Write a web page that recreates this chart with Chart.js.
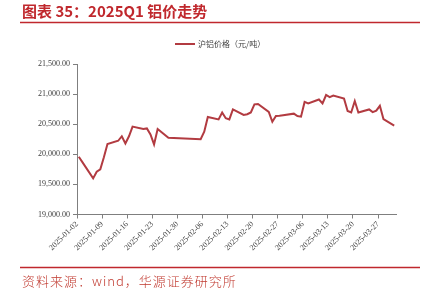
<!DOCTYPE html>
<html>
<head>
<meta charset="utf-8">
<script src="https://cdn.jsdelivr.net/npm/chart.js@4.4.1/dist/chart.umd.min.js"></script>
<style>
  html, body { margin: 0; padding: 0; background: #fff; }
  #wrap { width: 430px; height: 295px; }
</style>
</head>
<body>
<div id="wrap"><canvas id="line-chart" width="430" height="295"></canvas></div>
<script>
// trading days of 2025Q1 and SHFE aluminium price (yuan/ton)
var dates = ["2025-01-02", "2025-01-03", "2025-01-06", "2025-01-07", "2025-01-08", "2025-01-09", "2025-01-10",
  "2025-01-13", "2025-01-14", "2025-01-15", "2025-01-16", "2025-01-17", "2025-01-20", "2025-01-21",
  "2025-01-22", "2025-01-23", "2025-01-24", "2025-01-27", "2025-02-05", "2025-02-06", "2025-02-07",
  "2025-02-10", "2025-02-11", "2025-02-12", "2025-02-13", "2025-02-14", "2025-02-17", "2025-02-18",
  "2025-02-19", "2025-02-20", "2025-02-21", "2025-02-24", "2025-02-25", "2025-02-26", "2025-02-27",
  "2025-02-28", "2025-03-03", "2025-03-04", "2025-03-05", "2025-03-06", "2025-03-07", "2025-03-10",
  "2025-03-11", "2025-03-12", "2025-03-13", "2025-03-14", "2025-03-17", "2025-03-18", "2025-03-19",
  "2025-03-20", "2025-03-21", "2025-03-24", "2025-03-25", "2025-03-26", "2025-03-27", "2025-03-28",
  "2025-03-31"];
var prices = [19960, 19870, 19600, 19710, 19750, 19950, 20170,
  20225, 20300, 20180, 20300, 20460, 20420, 20430,
  20330, 20165, 20420, 20275, 20250, 20375, 20620,
  20580, 20695, 20600, 20580, 20745, 20655, 20665,
  20695, 20830, 20835, 20705, 20540, 20635, 20640,
  20650, 20675, 20635, 20625, 20870, 20845, 20910,
  20845, 20985, 20950, 20975, 20925, 20720, 20695,
  20885, 20695, 20745, 20700, 20725, 20805, 20585,
  20475];
var xTickLabels = ["2025-01-02", "2025-01-09", "2025-01-16", "2025-01-23", "2025-01-30", "2025-02-06",
  "2025-02-13", "2025-02-20", "2025-02-27", "2025-03-06", "2025-03-13", "2025-03-20", "2025-03-27"];
var yTicks = [19000, 19500, 20000, 20500, 21000, 21500];

var seriesName = "沪铝价格（元/吨）";
var lineColor = "#b23b41";
var red = "#c0282d";

// day offset from first date
var t0 = Date.UTC(2025, 0, 2);
function dayOf(s) {
  var p = s.split("-");
  return (Date.UTC(+p[0], +p[1] - 1, +p[2]) - t0) / 86400000;
}
var points = dates.map(function (d, i) { return { x: dayOf(d), y: prices[i] }; });

// title, rules, legend and source
var frame = {
  id: "frame",
  afterDraw: function (chart) {
    var ctx = chart.ctx;
    ctx.save();
    ctx.fillStyle = red;
    ctx.font = 'bold 15px "Noto Sans CJK SC"';
    ctx.textBaseline = "middle";
    ctx.fillText("图表 35：2025Q1 铝价走势", 22, 11);
    ctx.strokeStyle = red;
    ctx.lineWidth = 1.5;
    ctx.beginPath();
    ctx.moveTo(20, 22.5); ctx.lineTo(420, 22.5);
    ctx.moveTo(20, 267.5); ctx.lineTo(420, 267.5);
    ctx.stroke();

    // legend
    ctx.strokeStyle = lineColor;
    ctx.lineWidth = 2;
    ctx.beginPath();
    ctx.moveTo(175, 44); ctx.lineTo(195, 44);
    ctx.stroke();
    ctx.fillStyle = "#404040";
    ctx.font = '8px "Noto Sans CJK SC"';
    ctx.fillText(seriesName, 198, 44);

    // source
    ctx.fillStyle = "#c0392f";
    ctx.font = '300 13px "Noto Sans CJK SC"';
    ctx.letterSpacing = "1px";
    ctx.fillText("资料来源：wind，华源证券研究所", 22, 281);
    ctx.restore();
  }
};

new Chart(document.getElementById("line-chart"), {
  type: "line",
  data: {
    datasets: [{
      label: seriesName,
      data: points,
      borderColor: lineColor,
      backgroundColor: lineColor,
      borderWidth: 2,
      pointRadius: 0,
      tension: 0,
      fill: false
    }]
  },
  options: {
    responsive: false,
    animation: false,
    layout: { padding: { top: 64, right: 34, left: 0, bottom: 0 } },
    plugins: {
      legend: { display: false },
      title: { display: false },
      tooltip: { enabled: false }
    },
    scales: {
      x: {
        type: "linear",
        min: -0.5,
        max: 88.5,
        afterBuildTicks: function (scale) {
          scale.ticks = xTickLabels.map(function (l, i) { return { value: -0.5 + 7 * i }; });
        },
        afterFit: function (scale) { scale.height = 80.5; },
        border: { color: "#7f7f7f", width: 1 },
        grid: { display: true, drawOnChartArea: false, drawTicks: true, tickLength: 4, color: "#7f7f7f" },
        ticks: {
          autoSkip: false,
          maxRotation: 45,
          minRotation: 45,
          padding: 1,
          color: "#404040",
          font: { family: '"Liberation Serif"', size: 8 },
          callback: function (v, i) { return xTickLabels[i]; }
        }
      },
      y: {
        min: yTicks[0],
        max: yTicks[yTicks.length - 1],
        afterBuildTicks: function (scale) {
          scale.ticks = yTicks.map(function (v) { return { value: v }; });
        },
        afterFit: function (scale) { scale.width = 77; },
        border: { color: "#7f7f7f", width: 1 },
        grid: { display: true, drawOnChartArea: false, drawTicks: true, tickLength: 4, color: "#7f7f7f" },
        ticks: {
          padding: 3,
          color: "#404040",
          font: { family: '"Liberation Serif"', size: 8 },
          callback: function (v) {
            return v.toLocaleString("en-US", { minimumFractionDigits: 2, maximumFractionDigits: 2 });
          }
        }
      }
    }
  },
  plugins: [frame]
});
</script>
</body>
</html>
